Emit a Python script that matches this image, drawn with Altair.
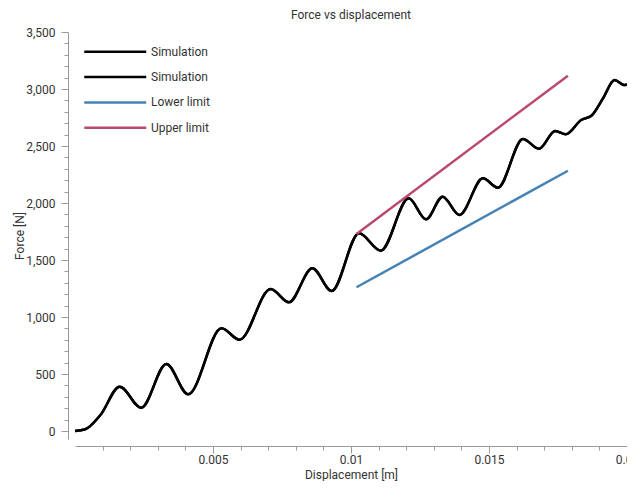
import altair as alt
import pandas as pd

# Simulation curve (displacement [m], force [N])
sim_x = [0, 0.00037, 0.00092, 0.00162, 0.0024, 0.00331, 0.0041, 0.00531, 0.00596,
         0.00709, 0.00775, 0.0086, 0.0093, 0.01029, 0.01108, 0.01209, 0.01272,
         0.01332, 0.01393, 0.01478, 0.01532, 0.01623, 0.01681, 0.0174, 0.01778,
         0.01834, 0.01871, 0.01913, 0.01955, 0.0199, 0.02]
sim_y = [0, 15, 140, 389, 204, 588, 322, 901, 801,
         1246, 1129, 1427, 1228, 1734, 1582, 2041, 1857,
         2055, 1895, 2217, 2134, 2561, 2476, 2632, 2603,
         2728, 2766, 2918, 3079, 3035, 3041]

lower_x = [0.0102, 0.01786]
lower_y = [1261, 2283]
upper_x = [0.0102, 0.01786]
upper_y = [1728, 3117]

series_keys = ["sim1", "sim2", "lower", "upper"]
series_labels = ["Simulation", "Simulation", "Lower limit", "Upper limit"]
series_colors = ["#000000", "#000000", "#4682b4", "#b94a6e"]

x_major = [0.005, 0.01, 0.015, 0.02]
x_minor = [0.001, 0.002, 0.003, 0.004, 0.006, 0.007, 0.008, 0.009, 0.011, 0.012,
           0.013, 0.014, 0.016, 0.017, 0.018, 0.019]
y_major = [0, 500, 1000, 1500, 2000, 2500, 3000, 3500]
y_minor = [v for v in range(100, 3500, 100) if v % 500 != 0]

rows = []
for s in ["sim1", "sim2"]:
    for i, (x, y) in enumerate(zip(sim_x, sim_y)):
        rows.append({"series": s, "x": x, "y": y, "o": i})
for i, (x, y) in enumerate(zip(lower_x, lower_y)):
    rows.append({"series": "lower", "x": x, "y": y, "o": i})
for i, (x, y) in enumerate(zip(upper_x, upper_y)):
    rows.append({"series": "upper", "x": x, "y": y, "o": i})
df = pd.DataFrame(rows)

FONT = "Roboto"
GRAY = "#9a9a9a"
TXT = "#333333"

xscale = alt.Scale(domain=[0, 0.02], nice=False, zero=False)
yscale = alt.Scale(domain=[-70, 3500], nice=False, zero=False)

label_map = "{" + ",".join(f"'{k}':'{v}'" for k, v in zip(series_keys, series_labels)) + "}"

main = alt.Chart(df).mark_line(strokeWidth=2.5, interpolate="monotone").encode(
    x=alt.X("x:Q", scale=xscale,
            axis=alt.Axis(values=x_major, format=".3~f", title="Displacement [m]",
                          grid=False, offset=7, tickSize=7, domainColor=GRAY,
                          tickColor=GRAY, labelColor=TXT, titleColor=TXT,
                          labelFont=FONT, titleFont=FONT, labelFontSize=12,
                          titleFontSize=12, titleFontWeight="normal",
                          labelPadding=1, titlePadding=4, labelFlush=False)),
    y=alt.Y("y:Q", scale=yscale,
            axis=alt.Axis(values=y_major, format=",d", title="Force [N]",
                          grid=False, offset=7, tickSize=7, domainColor=GRAY,
                          tickColor=GRAY, labelColor=TXT, titleColor=TXT,
                          labelFont=FONT, titleFont=FONT, labelFontSize=12,
                          titleFontSize=12, titleFontWeight="normal",
                          labelPadding=6, titlePadding=-1)),
    color=alt.Color("series:N",
                    scale=alt.Scale(domain=series_keys, range=series_colors),
                    legend=alt.Legend(title=None, orient="none", legendX=8, legendY=10.8,
                                      labelExpr=f"{label_map}[datum.value]",
                                      symbolType="M-1,0L7,0", symbolSize=240,
                                      symbolStrokeWidth=2.5, labelOffset=50,
                                      labelFont=FONT, labelFontSize=12,
                                      labelColor=TXT, rowPadding=10.3, padding=0)),
    order="o:Q",
    detail="series:N",
)

minor = alt.Chart(pd.DataFrame({"x": [0.0], "y": [0.0]})).mark_point(opacity=0).encode(
    x=alt.X("x:Q", scale=xscale,
            axis=alt.Axis(values=x_minor, labels=False, title=None, grid=False,
                          domain=False, offset=7, tickSize=4, tickColor=GRAY,
                          orient="bottom")),
    y=alt.Y("y:Q", scale=yscale,
            axis=alt.Axis(values=y_minor, labels=False, title=None, grid=False,
                          domain=False, offset=7, tickSize=4, tickColor=GRAY,
                          orient="left")),
)

chart = alt.layer(main, minor).resolve_axis(x="independent", y="independent").properties(
    width=552,
    height=407,
    autosize=alt.AutoSizeParams(type="none"),
    padding={"left": 67, "top": 24, "right": 0, "bottom": 42},
    title=alt.Title("Force vs displacement", font=FONT, fontSize=12,
                    fontWeight="normal", color=TXT, anchor="middle", offset=12, dy=8),
).configure_view(stroke=None)

chart.save("out.html", embed_options={"renderer": "svg", "actions": False})
